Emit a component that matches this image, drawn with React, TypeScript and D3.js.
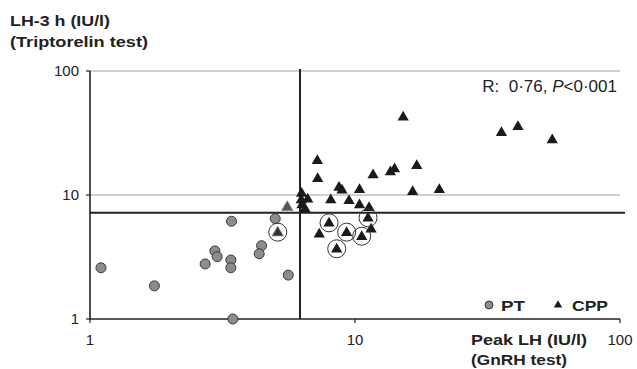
import React from "react";
import * as d3 from "d3";

// Data (log-log scatter)
const ptX = [1.1, 1.75, 2.72, 2.96, 3.02, 3.42, 3.4, 3.4, 3.46, 4.44, 4.35, 5.0, 5.6];
const ptY = [2.59, 1.85, 2.78, 3.54, 3.18, 6.14, 2.99, 2.59, 1.0, 3.9, 3.36, 6.44, 2.26];

const cppX = [15.2, 7.21, 7.23, 17.1, 11.7, 13.6, 14.1, 8.7, 8.93, 10.4, 16.5, 20.8, 6.29, 6.63, 6.27, 6.31, 6.48, 8.1, 9.49, 10.4, 11.3, 11.2, 7.98, 7.33, 9.3, 10.6, 11.5, 8.53, 35.7, 41.2, 55.5];
const cppY = [42.3, 18.9, 13.5, 17.2, 14.5, 15.3, 16.2, 11.5, 10.9, 11.0, 10.6, 11.0, 10.3, 9.23, 9.11, 8.3, 7.71, 9.11, 9.0, 8.3, 7.9, 6.49, 5.91, 4.82, 4.97, 4.61, 5.29, 3.65, 31.8, 35.5, 27.8];

// grey-shaded triangles near the cut-offs
const greyTriX = [5.55, 5.11];
const greyTriY = [7.96, 4.97];

// ringed points
const ringX = [5.11, 7.98, 9.3, 10.6, 8.53, 11.2];
const ringY = [4.97, 5.91, 4.97, 4.61, 3.65, 6.49];

const tickValues = [1, 10, 100];
const cutX = 6.2;
const cutY = 7.2;

const FONT = "'Liberation Sans', Arial, Helvetica, sans-serif";
const INK = "#222";

export default function App() {
  const W = 637;
  const H = 369;
  const x = d3.scaleLog().domain([1, 100]).range([90, 620]);
  const y = d3.scaleLog().domain([1, 100]).range([319, 71]);
  const tri = d3.symbol().type(d3.symbolTriangle).size(55)();
  const triSmall = d3.symbol().type(d3.symbolTriangle).size(30)();
  const fmt = d3.format("d");

  return (
    <svg
      width={W}
      height={H}
      style={{ position: "absolute", left: 0, top: 0, background: "#fff" }}
      fontFamily={FONT}
    >
      <rect x={0} y={0} width={W} height={H} fill="#fff" />
      {/* grey frame/grid lines */}
      <line x1={x(1)} x2={x(100)} y1={y(100)} y2={y(100)} stroke="#a0a0a0" strokeWidth={1.2} />
      <line x1={x(1)} x2={x(100)} y1={y(10)} y2={y(10)} stroke="#a0a0a0" strokeWidth={1.2} />

      {/* axes */}
      <line x1={x(1)} x2={x(1)} y1={y(100)} y2={y(1) + 1} stroke={INK} strokeWidth={1.6} />
      <line x1={x(1)} x2={x(100)} y1={y(1)} y2={y(1)} stroke={INK} strokeWidth={1.6} />
      {tickValues.map((t) => (
        <g key={"yt" + t}>
          <line x1={x(1) - 4} x2={x(1)} y1={y(t)} y2={y(t)} stroke={INK} strokeWidth={1.2} />
          <text x={79} y={y(t) + 5.3} textAnchor="end" fontSize={15} fill={INK}>
            {fmt(t)}
          </text>
        </g>
      ))}
      {tickValues.map((t) => (
        <g key={"xt" + t}>
          <line x1={x(t)} x2={x(t)} y1={y(1)} y2={y(1) + 4} stroke={INK} strokeWidth={1.2} />
          <text x={x(t)} y={345} textAnchor="middle" fontSize={15} fill={INK}>
            {fmt(t)}
          </text>
        </g>
      ))}

      {/* cut-off lines */}
      <line x1={x(1)} x2={625} y1={y(cutY)} y2={y(cutY)} stroke={INK} strokeWidth={2} />
      <line x1={x(cutX)} x2={x(cutX)} y1={69} y2={y(1)} stroke={INK} strokeWidth={2} />

      {/* PT circles */}
      {ptX.map((v, i) => (
        <circle key={"pt" + i} cx={x(v)} cy={y(ptY[i])} r={5} fill="#8c8c8c" stroke="#3a3a3a" strokeWidth={1} />
      ))}

      {/* CPP triangles */}
      {cppX.map((v, i) => (
        <path key={"cpp" + i} d={tri} transform={`translate(${x(v)},${y(cppY[i])})`} fill="#1a1a1a" />
      ))}
      {greyTriX.map((v, i) => (
        <path
          key={"gt" + i}
          d={tri}
          transform={`translate(${x(v)},${y(greyTriY[i])})`}
          fill={i === 0 ? "#555" : "#333"}
          stroke="#888"
          strokeWidth={0.8}
        />
      ))}

      {/* rings */}
      {ringX.map((v, i) => (
        <circle key={"rg" + i} cx={x(v)} cy={y(ringY[i]) - 0.5} r={9} fill="none" stroke="#333" strokeWidth={1} />
      ))}

      {/* correlation label */}
      <text x={617} y={92} textAnchor="end" fontSize={17} fill={INK} style={{ whiteSpace: "pre" }}>
        {"R:  0·76, "}
        <tspan fontStyle="italic">P</tspan>
        {"<0·001"}
      </text>

      {/* y title */}
      <text x={10} y={26} fontSize={15} fontWeight="bold" fill={INK} textLength={100} lengthAdjust="spacingAndGlyphs">
        LH-3 h (IU/l)
      </text>
      <text x={10} y={46.5} fontSize={15} fontWeight="bold" fill={INK} textLength={138} lengthAdjust="spacingAndGlyphs">
        (Triptorelin test)
      </text>

      {/* x title */}
      <text x={471} y={345} fontSize={15} fontWeight="bold" fill={INK} textLength={116} lengthAdjust="spacingAndGlyphs">
        Peak LH (IU/l)
      </text>
      <text x={471} y={365} fontSize={15} fontWeight="bold" fill={INK} textLength={96} lengthAdjust="spacingAndGlyphs">
        (GnRH test)
      </text>

      {/* legend */}
      <circle cx={489} cy={305} r={4} fill="#8c8c8c" stroke="#3a3a3a" strokeWidth={1} />
      <text x={501} y={311} fontSize={15} fontWeight="bold" fill={INK} textLength={24} lengthAdjust="spacingAndGlyphs">
        PT
      </text>
      <path d={triSmall} transform="translate(558,305)" fill="#1a1a1a" />
      <text x={572} y={311} fontSize={15} fontWeight="bold" fill={INK} textLength={36} lengthAdjust="spacingAndGlyphs">
        CPP
      </text>
    </svg>
  );
}
